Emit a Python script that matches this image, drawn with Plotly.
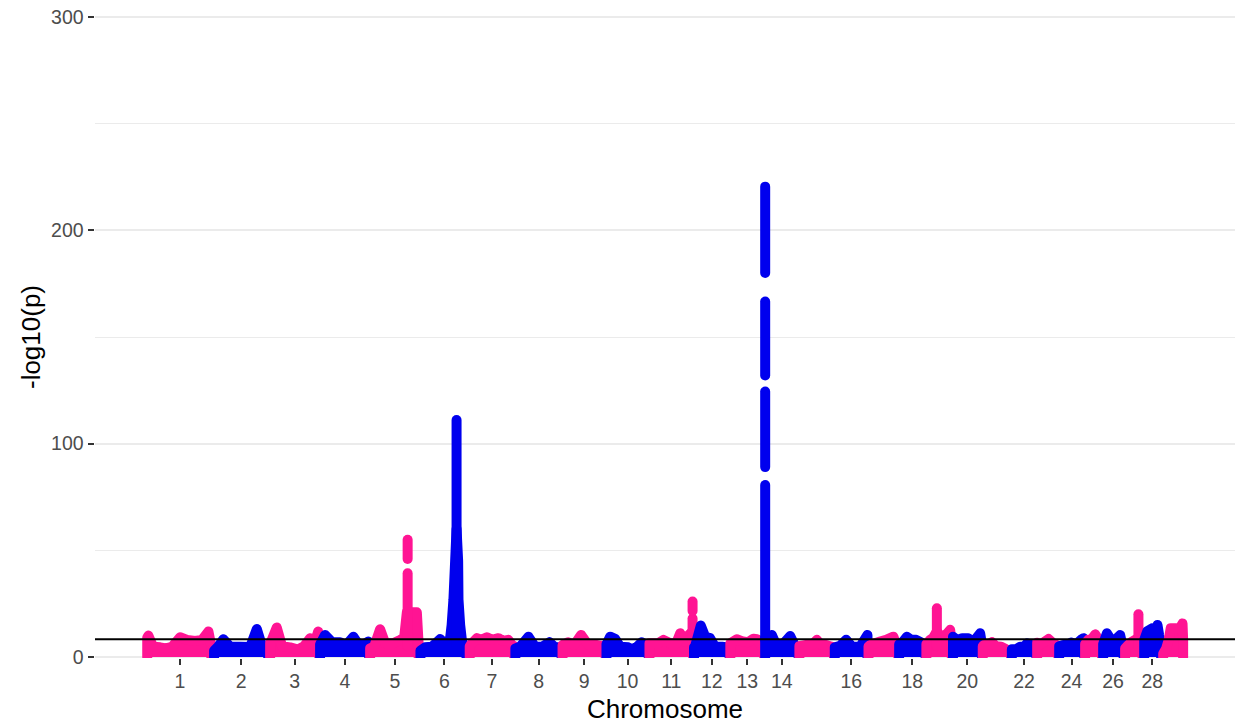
import plotly.graph_objects as go

# ---------------- data ----------------
chrom_labels = [str(i) for i in range(1, 30)]
chrom_lengths_mb = [158.5, 136.2, 121.0, 120.0, 120.1, 117.8, 110.7, 113.3, 105.5, 103.3,
                    107.0, 87.2, 83.5, 82.4, 85.0, 81.0, 73.2, 65.8, 63.4, 72.0,
                    69.9, 60.8, 52.5, 62.3, 42.35, 52.0, 45.6, 45.9, 51.1]
shown_tick_labels = ["1", "2", "3", "4", "5", "6", "7", "8", "9", "10", "11", "12", "13", "14",
                     "16", "18", "20", "22", "24", "26", "28"]

# top of the dense SNP cloud per chromosome: position (Mb) and -log10(p)
chr1_pos = [1.0, 3.8, 15.1, 31.9, 46.4, 60.8, 80.0, 96.8, 116.0, 132.8, 148.0, 155.0]
chr1_p = [9.0, 10.0, 4.8, 4.5, 4.0, 4.8, 9.2, 8.0, 7.5, 8.0, 11.9, 5.0]
chr2_pos = [3.1, 12.7, 25.5, 41.6, 65.6, 89.6, 105.7, 118.4, 133.0]
chr2_p = [3.0, 4.8, 8.3, 4.8, 4.8, 4.6, 13.1, 5.0, 4.5]
chr3_pos = [1.5, 3.8, 17.5, 30.3, 49.5, 68.7, 83.1, 97.5, 107.1, 116.7, 119.5]
chr3_p = [6.5, 7.2, 13.8, 5.0, 4.5, 3.5, 5.0, 8.8, 5.5, 11.9, 5.0]
chr4_pos = [0.5, 12.5, 29.3, 48.5, 62.9, 80.5, 96.6, 116.5, 118.5]
chr4_p = [5.9, 10.3, 6.9, 6.9, 5.5, 9.5, 4.8, 7.2, 4.5]
chr5_pos = [0.7, 10.3, 24.7, 36.8, 56.0, 72.8, 82.4, 88.9, 112.9, 117.2]
chr5_p = [4.0, 4.8, 13.0, 6.4, 6.4, 8.0, 9.0, 20.9, 20.9, 6.0]
chr6_pos = [1.5, 12.7, 29.5, 48.8, 60.8, 68.0, 72.8, 76.4, 80.7, 84.8, 88.2, 92.0, 92.8,
            96.8, 100.9, 106.4, 112.0]
chr6_p = [3.0, 4.5, 4.8, 8.4, 6.0, 7.0, 9.0, 15.0, 27.0, 45.0, 60.0, 45.0, 27.0,
          15.0, 8.0, 4.8, 4.5]
chr7_pos = [2.0, 5.5, 19.2, 29.5, 43.2, 56.0, 71.1, 82.4, 94.5, 104.1, 109.0]
chr7_p = [5.0, 6.0, 8.8, 8.0, 9.2, 8.0, 8.8, 7.5, 8.0, 5.5, 5.0]
chr8_pos = [1.0, 12.5, 32.4, 48.5, 65.3, 82.9, 94.2, 106.2, 112.0]
chr8_p = [4.0, 4.8, 9.5, 4.8, 4.8, 6.9, 4.8, 4.5, 4.0]
chr9_pos = [1.0, 14.4, 28.8, 45.6, 62.5, 81.7, 98.5, 104.5]
chr9_p = [5.6, 6.9, 5.6, 10.3, 5.6, 5.6, 5.0, 4.5]
chr10_pos = [1.0, 9.8, 21.9, 33.9, 53.1, 62.7, 74.7, 86.0, 96.3, 102.5]
chr10_p = [6.0, 9.5, 8.5, 4.8, 4.5, 3.5, 4.8, 6.9, 4.8, 4.5]
chr11_pos = [1.0, 21.9, 34.6, 50.7, 65.1, 74.7, 86.7, 93.9, 104.5, 106.0]
chr11_p = [6.4, 6.4, 8.0, 6.4, 6.4, 11.1, 7.0, 10.0, 12.0, 6.0]
chr12_pos = [1.0, 3.6, 17.3, 27.6, 39.6, 51.6, 68.5, 80.5, 86.5]
chr12_p = [4.5, 5.0, 14.7, 9.5, 8.8, 4.8, 4.8, 4.5, 4.0]
chr13_pos = [1.0, 16.6, 31.7, 43.7, 56.4, 65.3, 74.9, 82.5]
chr13_p = [6.4, 8.3, 7.2, 6.9, 8.5, 8.3, 5.0, 4.5]
chr14_pos = [1.2, 8.4, 17.3, 27.6, 42.0, 61.2, 73.2, 81.5]
chr14_p = [9.0, 8.0, 10.3, 5.6, 5.6, 9.8, 5.0, 4.5]
chr15_pos = [1.0, 17.3, 31.7, 43.0, 53.3, 65.3, 77.3, 84.0]
chr15_p = [5.0, 5.6, 5.6, 8.0, 5.6, 5.6, 4.8, 4.5]
chr16_pos = [1.0, 13.9, 28.3, 42.8, 62.0, 79.5]
chr16_p = [4.5, 5.2, 8.0, 4.8, 4.8, 10.3]
chr17_pos = [1.0, 4.8, 16.8, 28.8, 43.2, 60.8, 67.3, 72.5]
chr17_p = [5.0, 5.5, 6.4, 7.2, 8.0, 9.5, 6.0, 5.5]
chr18_pos = [1.4, 11.0, 19.9, 30.3, 42.3, 51.9, 61.5, 65.0]
chr18_p = [6.0, 7.2, 9.5, 8.0, 8.0, 7.0, 6.0, 5.5]
chr19_pos = [1.0, 10.1, 17.3, 26.2, 34.1, 41.3, 50.9, 58.1, 62.0]
chr19_p = [6.0, 8.0, 9.0, 12.0, 10.0, 9.5, 11.0, 12.7, 6.0]
chr20_pos = [1.5, 11.5, 23.5, 38.0, 50.0, 66.8, 71.0]
chr20_p = [9.5, 8.0, 8.8, 8.8, 7.0, 11.1, 6.0]
chr21_pos = [1.0, 4.3, 11.5, 22.8, 33.1, 45.2, 57.2, 64.4, 69.0]
chr21_p = [5.0, 5.6, 5.6, 6.9, 5.0, 4.8, 3.6, 3.0, 3.0]
chr22_pos = [1.0, 11.3, 20.9, 30.5, 37.7, 47.3, 56.9, 60.0]
chr22_p = [3.6, 3.6, 4.8, 4.8, 6.4, 5.6, 5.0, 4.5]
chr23_pos = [1.0, 10.6, 28.1, 39.4, 49.0, 52.0]
chr23_p = [6.7, 6.0, 8.4, 6.4, 5.5, 5.0]
chr24_pos = [1.4, 11.0, 20.7, 30.3, 42.3, 56.0, 59.8, 61.8]
chr24_p = [5.0, 5.6, 5.6, 6.7, 6.0, 8.4, 8.8, 5.0]
chr25_pos = [1.4, 8.6, 15.9, 25.5, 32.7, 39.9, 42.0]
chr25_p = [6.0, 8.0, 8.0, 10.6, 8.5, 5.5, 5.0]
chr26_pos = [2.4, 11.3, 21.6, 31.2, 43.2, 48.0, 51.5]
chr26_p = [6.0, 11.1, 8.0, 8.0, 10.3, 6.0, 5.0]
chr27_pos = [3.1, 10.3, 19.9, 27.1, 35.1, 41.6, 45.0]
chr27_p = [4.0, 5.5, 7.2, 8.0, 9.0, 7.0, 5.0]
chr28_pos = [3.4, 10.6, 21.9, 29.8, 35.3, 39.4, 44.0]
chr28_p = [8.0, 12.0, 13.4, 12.5, 15.0, 10.0, 6.0]
chr29_pos = [3.1, 10.3, 16.3, 21.1, 34.3, 41.5, 49.5, 51.0]
chr29_p = [1.5, 4.0, 8.0, 13.4, 13.4, 13.0, 15.7, 8.0]

# dense runs of significant SNPs in the peaks: chromosome, position (Mb), -log10(p) range
peak_chrom = [5, 5, 6, 11, 11, 14, 14, 14, 14, 19, 27]
peak_pos = [90.8, 90.8, 88.2, 104.5, 104.5, 1.2, 1.2, 1.2, 1.2, 26.2, 35.1]
peak_low = [5.0, 45.9, 5.0, 5.0, 21.5, 8.0, 89.0, 132.0, 180.0, 5.0, 5.0]
peak_high = [39.2, 54.9, 111.1, 18.0, 26.0, 80.6, 124.4, 166.6, 220.5, 22.8, 20.0]

threshold = 8.3
y_ticks = [0, 100, 200, 300]
y_minor_ticks = [50, 150, 250]

# ---------------- figure ----------------
chrom_pos = [chr1_pos, chr2_pos, chr3_pos, chr4_pos, chr5_pos, chr6_pos, chr7_pos, chr8_pos,
             chr9_pos, chr10_pos, chr11_pos, chr12_pos, chr13_pos, chr14_pos, chr15_pos,
             chr16_pos, chr17_pos, chr18_pos, chr19_pos, chr20_pos, chr21_pos, chr22_pos,
             chr23_pos, chr24_pos, chr25_pos, chr26_pos, chr27_pos, chr28_pos, chr29_pos]
chrom_p = [chr1_p, chr2_p, chr3_p, chr4_p, chr5_p, chr6_p, chr7_p, chr8_p, chr9_p, chr10_p,
           chr11_p, chr12_p, chr13_p, chr14_p, chr15_p, chr16_p, chr17_p, chr18_p, chr19_p,
           chr20_p, chr21_p, chr22_p, chr23_p, chr24_p, chr25_p, chr26_p, chr27_p, chr28_p,
           chr29_p]

PINK = "#FF1493"
BLUE = "#0000EE"
MARK = 10  # point diameter in px

offsets = []
acc = 0.0
for L in chrom_lengths_mb:
    offsets.append(acc)
    acc += L
total = acc
centers = [o + L / 2 for o, L in zip(offsets, chrom_lengths_mb)]

fig = go.Figure()
for i in range(len(chrom_lengths_mb)):
    col = PINK if i % 2 == 0 else BLUE
    xs = [offsets[i] + p for p in chrom_pos[i]]
    ys = list(chrom_p[i])
    fig.add_trace(go.Scatter(
        x=[xs[0]] + xs + [xs[-1]], y=[0] + ys + [0],
        mode="lines", fill="toself", fillcolor=col,
        line=dict(color=col, width=MARK, simplify=False),
        hoverinfo="skip", showlegend=False))
    px, py = [], []
    for c, pp, lo, hi in zip(peak_chrom, peak_pos, peak_low, peak_high):
        if c == i + 1:
            px += [offsets[i] + pp, offsets[i] + pp, None]
            py += [lo, hi, None]
    if px:
        fig.add_trace(go.Scatter(
            x=px, y=py, mode="lines",
            line=dict(color=col, width=MARK, simplify=False),
            hoverinfo="skip", showlegend=False))

fig.add_shape(type="line", xref="paper", x0=0, x1=1, yref="y", y0=threshold, y1=threshold,
              line=dict(color="black", width=2), layer="above")

tick_vals = [centers[chrom_labels.index(t)] for t in shown_tick_labels]

FONT = "Liberation Sans, Arial, Helvetica, sans-serif"
fig.update_layout(
    width=1238, height=727,
    margin=dict(l=95, r=3, t=16, b=69),
    paper_bgcolor="white", plot_bgcolor="white",
    font=dict(family=FONT, color="black"),
    showlegend=False,
    xaxis=dict(
        range=[-0.05 * total, 1.05 * total],
        tickmode="array", tickvals=tick_vals, ticktext=shown_tick_labels,
        ticks="outside", ticklen=6, tickwidth=1.5, tickcolor="#333333",
        tickfont=dict(size=19.5, color="#4D4D4D", family=FONT),
        showgrid=False, zeroline=False, showline=False,
        title=dict(text="Chromosome", font=dict(size=26, color="black", family=FONT), standoff=8),
        automargin=False,
    ),
    yaxis=dict(
        range=[-0.5, 300.5],
        tickmode="array", tickvals=y_ticks,
        ticks="outside", ticklen=6.5, tickwidth=1.5, tickcolor="#333333",
        tickfont=dict(size=19.5, color="#4D4D4D", family=FONT),
        ticklabeloverflow="allow",
        showgrid=True, gridcolor="#EBEBEB", gridwidth=1.6,
        minor=dict(tickmode="array", tickvals=y_minor_ticks, showgrid=True,
                   gridcolor="#EBEBEB", gridwidth=0.8, ticks=""),
        zeroline=False, showline=False,
        title=dict(text="-log10(p)", font=dict(size=26, color="black", family=FONT), standoff=2),
        automargin=False,
    ),
)

page_css = ("document.body.style.margin='0';"
            "var s=document.createElement('style');"
            "s.innerHTML='.scatterlayer .js-line{stroke-linejoin:round !important;"
            "stroke-linecap:round !important;}';document.head.appendChild(s);")
fig.write_html("out.html", post_script=page_css, config={"displayModeBar": False})
